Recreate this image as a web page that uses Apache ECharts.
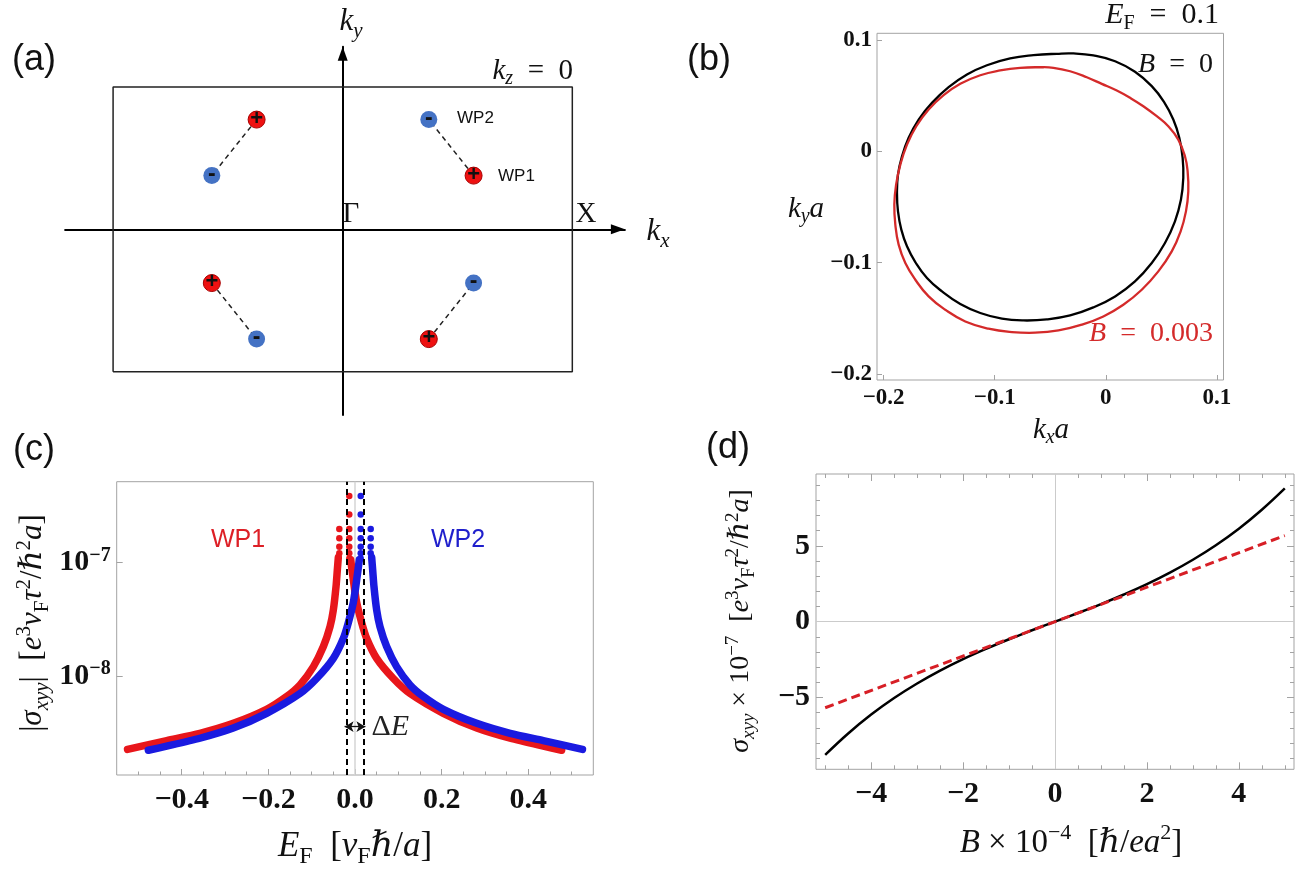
<!DOCTYPE html>
<html>
<head>
<meta charset="utf-8">
<script src="https://cdn.jsdelivr.net/npm/echarts@6/dist/echarts.min.js"></script>
<style>
html,body{margin:0;padding:0;background:#fff;}
#chart{width:1311px;height:870px;}
</style>
</head>
<body>
<div id="chart"></div>
<script>
// ---------------- (a) Weyl nodes in the k_z = 0 plane ----------------
const bzCorners = [[-1,-0.62],[1,-0.62],[1,0.62],[-1,0.62],[-1,-0.62]];
// chirality + nodes and their chirality − partners (same index = one pair)
const wpPlus  = [[-0.375,0.478],[0.57,0.234],[-0.57,-0.234],[0.375,-0.478]];
const wpMinus = [[-0.57,0.234],[0.375,0.478],[-0.375,-0.478],[0.57,-0.234]];

// ---------------- (b) Fermi contours at E_F = 0.1, [k_x a, k_y a] (closed loops) ----------------
const contourB0 = [[-0.0441,0.0876],[-0.0651,0.0863],[-0.0861,0.0834],[-0.107,0.0773],[-0.125,0.069],
  [-0.1415,0.0576],[-0.1565,0.0435],[-0.1685,0.0285],[-0.1775,0.0121],[-0.1835,-0.0045],[-0.1871,-0.021],
  [-0.188,-0.0374],[-0.1871,-0.054],[-0.1841,-0.0704],[-0.179,-0.0854],[-0.1715,-0.0995],[-0.161,-0.1138],
  [-0.1475,-0.1259],[-0.131,-0.1372],[-0.113,-0.1453],[-0.0935,-0.1504],[-0.0741,-0.152],[-0.0531,-0.1511],
  [-0.0321,-0.1475],[-0.0112,-0.1403],[0.0084,-0.1304],[0.0263,-0.1169],[0.0414,-0.1004],[0.0533,-0.0824],
  [0.0623,-0.0629],[0.0677,-0.0434],[0.0698,-0.0239],[0.0692,-0.0059],[0.0662,0.0121],[0.0608,0.0285],
  [0.0524,0.0444],[0.0414,0.0585],[0.0263,0.0714],[0.0084,0.0809],[-0.0112,0.0861],[-0.0291,0.0879]];
const contourB3 = [[-0.0591,0.0755],[-0.0771,0.075],[-0.0951,0.0726],[-0.113,0.0683],[-0.131,0.0606],
  [-0.146,0.0504],[-0.1595,0.0375],[-0.1706,0.0225],[-0.179,0.006],[-0.185,-0.012],[-0.1888,-0.03],
  [-0.1904,-0.0479],[-0.1895,-0.0659],[-0.1865,-0.0839],[-0.1805,-0.1004],[-0.1715,-0.1154],[-0.1595,-0.1304],
  [-0.1445,-0.1424],[-0.1265,-0.1529],[-0.1056,-0.1594],[-0.0845,-0.1624],[-0.0636,-0.163],[-0.0426,-0.161],
  [-0.0216,-0.1558],[-0.0022,-0.1484],[0.0158,-0.1379],[0.0324,-0.1244],[0.0473,-0.1079],[0.0594,-0.0899],
  [0.0674,-0.0719],[0.0722,-0.054],[0.0743,-0.036],[0.0737,-0.018],[0.0713,-0.0045],[0.0653,0.0105],
  [0.0563,0.0225],[0.0459,0.0315],[0.0338,0.0405],[0.0219,0.048],[0.0099,0.0546],[-0.0036,0.0606],
  [-0.0171,0.0665],[-0.0321,0.0719],[-0.0471,0.075]];
const bTicks = [-0.2,-0.1,0,0.1];

// ---------------- (c) |sigma_xyy| versus E_F ----------------
const wp1Left  = [[-0.525,2.25e-9],[-0.4346,2.69e-9],[-0.358,3.12e-9],[-0.281,3.82e-9],[-0.204,5.08e-9],
  [-0.158,6.58e-9],[-0.127,8.34e-9],[-0.096,1.21e-8],[-0.073,1.82e-8],[-0.0577,2.72e-8],[-0.05,3.82e-8],
  [-0.0438,6.14e-8],[-0.0408,8.61e-8],[-0.0385,1.11e-7]];
const wp1Right = [[-0.01,1.06e-7],[-0.0038,7.03e-8],[0.0038,4.47e-8],[0.0154,2.95e-8],[0.027,2.14e-8],
  [0.05,1.43e-8],[0.088,9.55e-9],[0.127,7.0e-9],[0.204,4.68e-9],[0.281,3.47e-9],[0.358,2.82e-9],
  [0.4346,2.40e-9],[0.477,2.21e-9]];
const wp1Peak  = [[-0.0362,1.98e-7],[-0.0362,1.64e-7],[-0.0362,1.38e-7],[-0.0362,1.21e-7],
  [-0.0132,3.88e-7],[-0.0132,2.67e-7],[-0.0132,1.98e-7],[-0.0132,1.64e-7],[-0.0132,1.38e-7],
  [-0.0132,1.21e-7],[-0.0132,1.09e-7]];
const wp2Left  = [[-0.477,2.21e-9],[-0.4346,2.40e-9],[-0.358,2.82e-9],[-0.281,3.47e-9],[-0.204,4.68e-9],
  [-0.127,7.0e-9],[-0.088,9.55e-9],[-0.05,1.43e-8],[-0.027,2.14e-8],[-0.0154,2.95e-8],[-0.0038,4.47e-8],
  [0.0038,7.03e-8],[0.01,1.06e-7]];
const wp2Right = [[0.0385,1.11e-7],[0.0408,8.61e-8],[0.0438,6.14e-8],[0.05,3.82e-8],[0.0577,2.72e-8],
  [0.073,1.82e-8],[0.096,1.21e-8],[0.127,8.34e-9],[0.158,6.58e-9],[0.204,5.08e-9],[0.281,3.82e-9],
  [0.358,3.12e-9],[0.4346,2.69e-9],[0.525,2.25e-9]];
const wp2Peak  = [[0.0132,3.88e-7],[0.0132,2.67e-7],[0.0132,1.98e-7],[0.0132,1.64e-7],[0.0132,1.38e-7],
  [0.0132,1.21e-7],[0.0132,1.09e-7],[0.0362,1.98e-7],[0.0362,1.64e-7],[0.0362,1.38e-7],[0.0362,1.21e-7]];
const nodeEnergy = [-0.024, 0.024];      // energies of WP1 and WP2
const cTicks = [-0.4,-0.2,0,0.2,0.4];
const cMinor = [-0.5,-0.45,-0.4,-0.35,-0.3,-0.25,-0.2,-0.15,-0.1,-0.05,0,0.05,0.1,0.15,0.2,0.25,0.3,0.35,0.4,0.45,0.5];
const cYTicks = [1e-8, 1e-7];

// ---------------- (d) sigma_xyy versus B ----------------
const fieldB    = [-5,-4.5,-4,-3.5,-3,-2.5,-2,-1.5,-1,-0.5,0,0.5,1,1.5,2,2.5,3,3.5,4,4.5,5];
const sigmaFull = [-8.79,-7.38,-6.13,-5.04,-4.08,-3.23,-2.47,-1.79,-1.16,-0.57,0,0.57,1.16,1.79,2.47,3.23,4.08,5.04,6.13,7.38,8.79];
const fieldLin  = [-5, 5];
const sigmaLin  = [-5.68, 5.68];
const dXTicks = [-4,-2,0,2,4];
const dXMinor = [-5,-4.5,-4,-3.5,-3,-2.5,-2,-1.5,-1,-0.5,0,0.5,1,1.5,2,2.5,3,3.5,4,4.5,5];
const dYTicks = [-5,0,5];
const dYMinor = [-9,-8,-7,-6,-5,-4,-3,-2,-1,0,1,2,3,4,5,6,7,8,9];

// ---------------- styles ----------------
const SERIF = '"Liberation Serif", "Times New Roman", "DejaVu Serif", serif';
const SANS = '"Liberation Sans", Arial, "DejaVu Sans", sans-serif';
const RED = '#e8161b', BLUE = '#1a1ae0', FRAME = '#a3a3a3';
const SP = '\u2002';   // en space, used around relation signs

function mathRich(size, color, weight) {
  weight = weight || 'normal';
  const lh = Math.round(size * 1.25);
  const sm = Math.round(size * 0.68);
  const base = {fontFamily: SERIF, fontWeight: weight, color: color, fill: color};
  const mk = o => Object.assign({}, base, o);
  return {
    n:   mk({fontSize: size, lineHeight: lh}),
    i:   mk({fontSize: size, lineHeight: lh, fontStyle: 'italic'}),
    sb:  mk({fontSize: sm, lineHeight: Math.round(sm * 0.9), verticalAlign: 'bottom'}),
    sbi: mk({fontSize: sm, lineHeight: Math.round(sm * 0.9), verticalAlign: 'bottom', fontStyle: 'italic'}),
    sp:  mk({fontSize: sm, lineHeight: Math.round(sm * 1.1), verticalAlign: 'top'}),
    spi: mk({fontSize: sm, lineHeight: Math.round(sm * 1.1), verticalAlign: 'top', fontStyle: 'italic'})
  };
}
function mathText(x, y, text, size, color, extra) {
  const el = {type: 'text', x: x, y: y, z: 100, silent: true,
    style: {text: text, rich: mathRich(size, color || '#111'), align: 'center', verticalAlign: 'middle',
            fontFamily: SERIF, fontSize: size}};
  if (extra) {
    if (extra.align) el.style.align = extra.align;
    if (extra.rotation) el.rotation = extra.rotation;
  }
  return el;
}
function sansText(x, y, text, size, color, align) {
  return {type: 'text', x: x, y: y, z: 100, silent: true,
    style: {text: text, fontFamily: SANS, fontSize: size, fill: color || '#111',
            align: align || 'center', verticalAlign: 'middle'}};
}
const uminus = s => s.replace('-', '\u2212');

// frame-style axis helpers
function tickAxis(gridIndex, pos, min, max, major, len, opts) {
  const o = {
    type: 'value', gridIndex: gridIndex, position: pos, min: min, max: max,
    axisLine: {show: false, onZero: false},
    splitLine: {show: false},
    axisTick: {show: true, inside: true, length: len, customValues: major, lineStyle: {color: FRAME, width: 1}},
    axisLabel: {show: false}
  };
  return Object.assign(o, opts || {});
}
function boldLabel(values, size, margin, fmt) {
  return {show: true, customValues: values, margin: margin, fontFamily: SERIF, fontWeight: 'bold',
          fontSize: size, color: '#111', formatter: fmt};
}
// closed contour drawn as one smooth loop through the points of a custom series
function contourSeries(points, color) {
  return {
    type: 'custom', coordinateSystem: 'cartesian2d', xAxisIndex: 1, yAxisIndex: 1, silent: true,
    data: points,
    renderItem: function (params, api) {
      if (params.dataIndex !== 0) return null;
      const pts = points.map(p => api.coord(p));
      return {type: 'polygon', shape: {points: pts, smooth: 0.45},
              style: {fill: 'none', stroke: color, lineWidth: 2.3}};
    }
  };
}

const chart = echarts.init(document.getElementById('chart'), null, {renderer: 'canvas', width: 1311, height: 870});

const option = {
  animation: false,
  backgroundColor: '#fff',
  textStyle: {fontFamily: SERIF},
  grid: [
    {left: 65.1, top: 46.8, width: 559.8, height: 368.3, outerBoundsMode: 'none'},
    {left: 877, top: 33.3, width: 346.5, height: 346.7, show: true, borderColor: FRAME, borderWidth: 1, outerBoundsMode: 'none'},
    {left: 116.7, top: 481.7, width: 476.6, height: 293.3, show: true, borderColor: FRAME, borderWidth: 1, outerBoundsMode: 'none'},
    {left: 816, top: 474, width: 478, height: 295.3, show: true, borderColor: FRAME, borderWidth: 1, outerBoundsMode: 'none'}
  ],
  xAxis: [
    // (a) k_x axis with arrow
    {type: 'value', gridIndex: 0, min: -1.209, max: 1.229,
     axisLine: {show: true, onZero: true, symbol: ['none', 'triangle'], symbolSize: [10, 14], symbolOffset: [0, -7],
                lineStyle: {color: '#000', width: 2}},
     axisTick: {show: false}, axisLabel: {show: false}, splitLine: {show: false}},
    // (b)
    tickAxis(1, 'bottom', -0.206, 0.106, bTicks, 5,
      {axisLabel: boldLabel(bTicks, 23, 7, v => v === 0 ? '0' : uminus(v.toFixed(1)))}),
    // (c) major / minor
    tickAxis(2, 'bottom', -0.55, 0.55, cTicks, 6,
      {axisLabel: boldLabel(cTicks, 30, 10, v => uminus(v.toFixed(1)))}),
    tickAxis(2, 'bottom', -0.55, 0.55, cMinor, 3.5),
    // (d) bottom major / minor, top major / minor
    tickAxis(3, 'bottom', -5.2, 5.2, dXTicks, 7,
      {axisLabel: boldLabel(dXTicks, 30, 10, v => uminus(String(v)))}),
    tickAxis(3, 'bottom', -5.2, 5.2, dXMinor, 4),
    tickAxis(3, 'top', -5.2, 5.2, dXTicks, 7),
    tickAxis(3, 'top', -5.2, 5.2, dXMinor, 4)
  ],
  yAxis: [
    // (a) k_y axis with arrow
    {type: 'value', gridIndex: 0, min: -0.809, max: 0.795,
     axisLine: {show: true, onZero: true, symbol: ['none', 'triangle'], symbolSize: [10, 14], symbolOffset: [0, -7],
                lineStyle: {color: '#000', width: 2}},
     axisTick: {show: false}, axisLabel: {show: false}, splitLine: {show: false}},
    // (b)
    tickAxis(1, 'left', -0.2055, 0.106, bTicks, 5,
      {axisLabel: boldLabel(bTicks, 23, 5, v => v === 0 ? '0' : uminus(v.toFixed(1)))}),
    // (c) logarithmic
    {type: 'log', gridIndex: 2, position: 'left', min: 1.336e-9, max: 5.19e-7,
     axisLine: {show: false, onZero: false}, splitLine: {show: false}, minorTick: {show: false},
     axisTick: {show: true, inside: true, length: 6, customValues: cYTicks, lineStyle: {color: FRAME}},
     axisLabel: {show: true, customValues: cYTicks, margin: 6,
       formatter: v => '{b|10}{e|' + uminus(String(Math.round(Math.log10(v)))) + '}',
       rich: {
         b: {fontFamily: SERIF, fontWeight: 'bold', fontSize: 30, color: '#111', lineHeight: 34},
         e: {fontFamily: SERIF, fontWeight: 'bold', fontSize: 20, color: '#111', lineHeight: 21, verticalAlign: 'top'}
       }}},
    // (d) left major / minor, right major / minor
    tickAxis(3, 'left', -9.74, 9.74, dYTicks, 7,
      {axisLabel: boldLabel(dYTicks, 30, 6, v => uminus(String(v)))}),
    tickAxis(3, 'left', -9.74, 9.74, dYMinor, 4),
    tickAxis(3, 'right', -9.74, 9.74, dYTicks, 7),
    tickAxis(3, 'right', -9.74, 9.74, dYMinor, 4)
  ],
  series: [
    // ---- (a) ----
    {type: 'line', xAxisIndex: 0, yAxisIndex: 0, data: bzCorners, symbol: 'none', silent: true,
     lineStyle: {color: '#222', width: 1.5}},
    ...wpPlus.map((p, i) => ({type: 'line', xAxisIndex: 0, yAxisIndex: 0, data: [p, wpMinus[i]],
      symbol: 'none', silent: true, lineStyle: {color: '#222', width: 1.5, type: [5, 4]}})),
    {type: 'scatter', xAxisIndex: 0, yAxisIndex: 0, data: wpPlus, symbolSize: 17, silent: true, z: 5,
     itemStyle: {color: '#ee1111', borderColor: '#a80000', borderWidth: 1, opacity: 1},
     label: {show: true, position: 'inside', formatter: '+', fontFamily: SANS, fontWeight: 'bold', fontSize: 22,
             color: '#111', offset: [0, -1]}},
    {type: 'scatter', xAxisIndex: 0, yAxisIndex: 0, data: wpMinus, symbolSize: 17, silent: true, z: 5,
     itemStyle: {color: '#4472c4', opacity: 1},
     label: {show: true, position: 'inside', formatter: '-', fontFamily: SANS, fontWeight: 'bold', fontSize: 23,
             color: '#111', offset: [0, -1]}},

    // ---- (b) ----
    contourSeries(contourB0, '#000'),
    contourSeries(contourB3, '#d42a2a'),

    // ---- (c) ----
    {type: 'line', xAxisIndex: 2, yAxisIndex: 2, data: wp1Left, symbol: 'none', smooth: 0.25, silent: true,
     lineStyle: {color: RED, width: 7.5, cap: 'round', join: 'round'},
     markLine: {silent: true, z: 1, symbol: 'none', label: {show: false},
       lineStyle: {color: '#d4d4d4', width: 1.5, type: 'solid'}, data: [{xAxis: 0}]}},
    {type: 'line', xAxisIndex: 2, yAxisIndex: 2, data: wp1Right, symbol: 'none', smooth: 0.25, silent: true,
     lineStyle: {color: RED, width: 7.5, cap: 'round', join: 'round'}},
    {type: 'scatter', xAxisIndex: 2, yAxisIndex: 2, data: wp1Peak, symbolSize: 6.5, silent: true,
     itemStyle: {color: RED, opacity: 1}},
    {type: 'line', xAxisIndex: 2, yAxisIndex: 2, data: wp2Left, symbol: 'none', smooth: 0.25, silent: true,
     lineStyle: {color: BLUE, width: 7.5, cap: 'round', join: 'round'}},
    {type: 'line', xAxisIndex: 2, yAxisIndex: 2, data: wp2Right, symbol: 'none', smooth: 0.25, silent: true,
     lineStyle: {color: BLUE, width: 7.5, cap: 'round', join: 'round'}},
    {type: 'scatter', xAxisIndex: 2, yAxisIndex: 2, data: wp2Peak, symbolSize: 6.5, silent: true,
     itemStyle: {color: BLUE, opacity: 1},
     markLine: {silent: true, symbol: 'none', symbolSize: [8, 9], label: {show: false},
       lineStyle: {color: '#000', width: 2, type: [6, 4]},
       data: [
         {xAxis: nodeEnergy[0]}, {xAxis: nodeEnergy[1]},
         [{coord: [nodeEnergy[0], 3.57e-9], symbol: 'arrow', lineStyle: {type: 'solid', width: 1.3, color: '#111'},
           label: {show: true, position: 'end', distance: 6, formatter: '{n|\u0394}{i|E}', rich: mathRich(30, '#222')}},
          {coord: [nodeEnergy[1], 3.57e-9], symbol: 'arrow'}]
       ]}},

    // ---- (d) ----
    {type: 'line', xAxisIndex: 4, yAxisIndex: 3, data: fieldB.map((b, i) => [b, sigmaFull[i]]),
     symbol: 'none', smooth: 0.4, silent: true, lineStyle: {color: '#000', width: 2.5},
     markLine: {silent: true, z: 1, symbol: 'none', label: {show: false},
       lineStyle: {color: '#cbcbcb', width: 1, type: 'solid'}, data: [{xAxis: 0}, {yAxis: 0}]}},
    {type: 'line', xAxisIndex: 4, yAxisIndex: 3, data: fieldLin.map((b, i) => [b, sigmaLin[i]]),
     symbol: 'none', silent: true, z: 3, lineStyle: {color: '#d71f26', width: 3, type: [9, 5]}}
  ],
  graphic: [
    // panel letters
    sansText(34, 60, '(a)', 36, '#111'),
    sansText(709, 60, '(b)', 36, '#111'),
    sansText(34, 450, '(c)', 36, '#111'),
    sansText(728, 448, '(d)', 36, '#111'),
    // (a)
    mathText(351, 22, '{i|k}{sbi|y}', 31),
    mathText(658, 232, '{i|k}{sbi|x}', 31),
    mathText(573, 71, '{i|k}{sbi|z}{n|' + SP + '=' + SP + '0}', 29, '#111', {align: 'right'}),
    mathText(351, 214, '{n|\u0393}', 29),
    mathText(586, 214, '{n|X}', 29),
    sansText(457, 118, 'WP2', 17, '#111', 'left'),
    sansText(498, 176, 'WP1', 17, '#111', 'left'),
    // (b)
    mathText(1219, 15, '{i|E}{sb|F}{n|' + SP + '=' + SP + '0.1}', 30, '#111', {align: 'right'}),
    mathText(1213, 65, '{i|B}{n|' + SP + '=' + SP + '0}', 28, '#111', {align: 'right'}),
    mathText(1213, 334, '{i|B}{n|' + SP + '=' + SP + '0.003}', 28, '#d42a2a', {align: 'right'}),
    mathText(806, 209, '{i|k}{sbi|y}{i|a}', 29),
    mathText(1051, 430, '{i|k}{sbi|x}{i|a}', 29),
    // (c)
    sansText(238, 540, 'WP1', 25, '#dd1f26'),
    sansText(458, 540, 'WP2', 25, '#1f1fcc'),
    mathText(355, 847, '{i|E}{sb|F}{n|  [}{i|v}{sb|F}{i|\u210f}{n|/}{i|a}{n|]}', 35),
    mathText(33, 623, '{n||}{i|\u03c3}{sbi|xyy}{n||  [}{i|e}{sp|3}{i|v}{sb|F}{i|\u03c4}{sp|2}{n|/}{i|\u210f}{sp|2}{i|a}{n|]}', 31, '#111',
             {rotation: Math.PI / 2}),
    // (d)
    mathText(1071, 843, '{i|B}{n| \u00d7 10}{sp|\u22124}{n|  [}{i|\u210f}{n|/}{i|ea}{sp|2}{n|]}', 33),
    mathText(741, 621, '{i|\u03c3}{sbi|xyy}{n| \u00d7 10}{sp|\u22127}{n|  [}{i|e}{sp|3}{i|v}{sb|F}{i|\u03c4}{sp|2}{n|/}{i|\u210f}{sp|2}{i|a}{n|]}', 28, '#111',
             {rotation: Math.PI / 2})
  ]
};
chart.setOption(option);
</script>
</body>
</html>
